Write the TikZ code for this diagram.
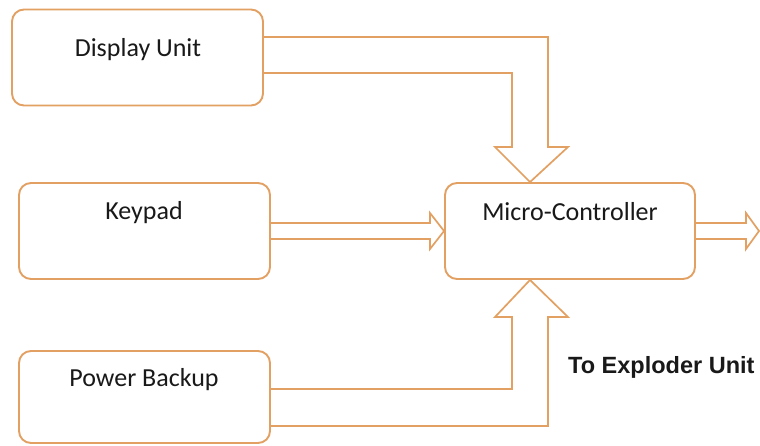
\documentclass[tikz,border=0pt]{standalone}
\usepackage{fontspec}
\newfontfamily\boxfont{Carlito}
\newfontfamily\notefont{Liberation Sans}
\definecolor{naranja}{RGB}{226,160,98}
\definecolor{tinta}{RGB}{25,25,25}
\begin{document}
\begin{tikzpicture}[x=1pt,y=-1pt,
  caja/.style={draw=naranja,line width=1.9pt,rounded corners=12pt,fill=white,
    inner sep=0pt,minimum width=251pt,minimum height=96pt},
  rotulo/.style={text=tinta,inner sep=0pt,font=\boxfont\fontsize{26}{30}\selectfont},
  flecha/.style={draw=naranja,line width=1.7pt,line join=miter}]
\useasboundingbox (0,0) rectangle (760,445);
% Cajas
\node[caja] (disp) at (137.5,57.5) {};
\node[caja] (key) at (144.5,231) {};
\node[caja,minimum width=250pt] (mcu) at (570,231) {};
\node[caja,minimum height=92pt] (pwr) at (144.5,397) {};
\node[rotulo] (dispT) at (138,50) {Display Unit};
\node[rotulo] (keyT) at (144,213) {Keypad};
\node[rotulo] (mcuT) at (570,212) {Micro-Controller};
\node[rotulo] (pwrT) at (144,380) {Power Backup};
\node[text=tinta,inner sep=0pt,anchor=west,font=\notefont\bfseries\fontsize{23.5}{28}\selectfont]
  (expl) at (568,367) {To Exploder Unit};
\coordinate (salida) at (759,231);
% Flechas
\draw[flecha] ([yshift=20.5pt]disp.east) -| (548,147) -- (568,147)
  -- ([xshift=-40pt]mcu.north) -- (495,147) -- (512,147) |- ([yshift=-15.5pt]disp.east);
\draw[flecha] ([yshift=8pt]key.east) -- (430,223) -- (430,213) -- (mcu.west)
  -- (430,249) -- (430,239) -- ([yshift=-8pt]key.east);
\draw[flecha] ([yshift=8pt]mcu.east) -- (746,223) -- (746,213) -- (salida)
  -- (746,249) -- (746,239) -- ([yshift=-8pt]mcu.east);
\draw[flecha] ([yshift=8pt]pwr.east) -| (512,317) -- (495,317)
  -- ([xshift=-40pt]mcu.south) -- (568,317) -- (548,317) |- ([yshift=-29pt]pwr.east);
\end{tikzpicture}
\end{document}
